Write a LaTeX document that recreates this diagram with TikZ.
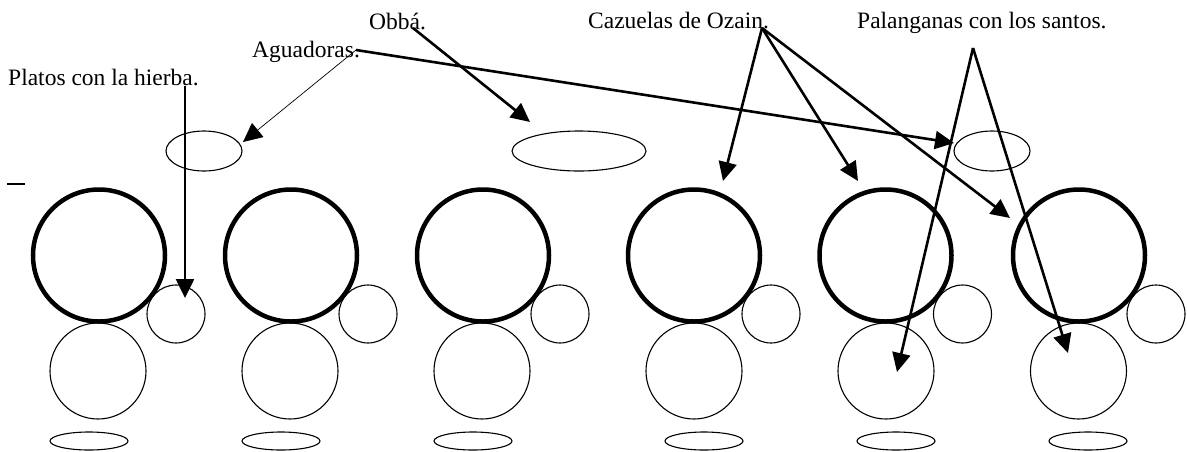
\documentclass[tikz,border=0pt]{standalone}
\usepackage{fontspec}
\setmainfont{Liberation Serif}
\usetikzlibrary{arrows.meta}
\begin{document}
\begin{tikzpicture}[x=1pt,y=-1pt,
  lbl/.style={anchor=base west,inner sep=0pt,font=\fontsize{23.5}{28}\selectfont},
  bigc/.style={draw,line width=4.5pt},
  thinc/.style={draw,line width=1.1pt},
  arr/.style={line width=2.6pt,-{Triangle[length=19pt,width=18pt]}},
  arrthin/.style={line width=0.7pt,-{Triangle[length=19pt,width=18pt]}}]
\useasboundingbox (0,0) rectangle (1187,451);
% labels
\node[lbl] (platos) at (8,85) {Platos con la hierba.};
\node[lbl] (agua) at (252,57) {Aguadoras.};
\node[lbl] (obba) at (369,29) {Obbá.};
\node[lbl] (caz) at (588,28) {Cazuelas de Ozain.};
\node[lbl] (pal) at (857,28) {Palanganas con los santos.};
% top ellipses
\draw[thinc] (204,151) ellipse [x radius=38, y radius=20];
\draw[thinc] (579,151) ellipse [x radius=67, y radius=20];
\draw[thinc] (992,151) ellipse [x radius=38, y radius=20];
% dash
\draw[line width=1.1pt] (7,184) -- (25,184);
% groups
\foreach \bx/\lx/\ex in {99/98/89, 291/290/281, 483/482/473, 694/694/704, 885.5/886/896, 1079/1078.5/1088}{
  \draw[thinc] (\lx,371) circle [radius=48];
  \draw[thinc] (\bx+77,314) circle [radius=29];
  \draw[bigc] (\bx,255.5) circle [radius=66];
  \draw[thinc] (\ex,441) ellipse [x radius=39, y radius=9];
}
% arrow points
\coordinate (pS) at (185,86);
\coordinate (pT) at (185,298);
\coordinate (aS) at (356,50);
\coordinate (aT1) at (243,142);
\coordinate (aT2) at (954,143);
\coordinate (oS) at (413,28);
\coordinate (oT) at (530,122);
\coordinate (cS) at (762,28);
\coordinate (cT1) at (723,181);
\coordinate (cT2) at (858,181);
\coordinate (cT3) at (1010,218);
\coordinate (sS) at (973,48);
\coordinate (sT1) at (897,372);
\coordinate (sT2) at (1068,353);
% arrows
\draw[arr] (pS) -- (pT);
\draw[arrthin] (aS) -- (aT1);
\draw[arr] (aS) -- (aT2);
\draw[arr] (oS) -- (oT);
\draw[arr] (cS) -- (cT1);
\draw[arr] (cS) -- (cT2);
\draw[arr] (cS) -- (cT3);
\draw[arr] (sS) -- (sT1);
\draw[arr] (sS) -- (sT2);
\end{tikzpicture}
\end{document}
